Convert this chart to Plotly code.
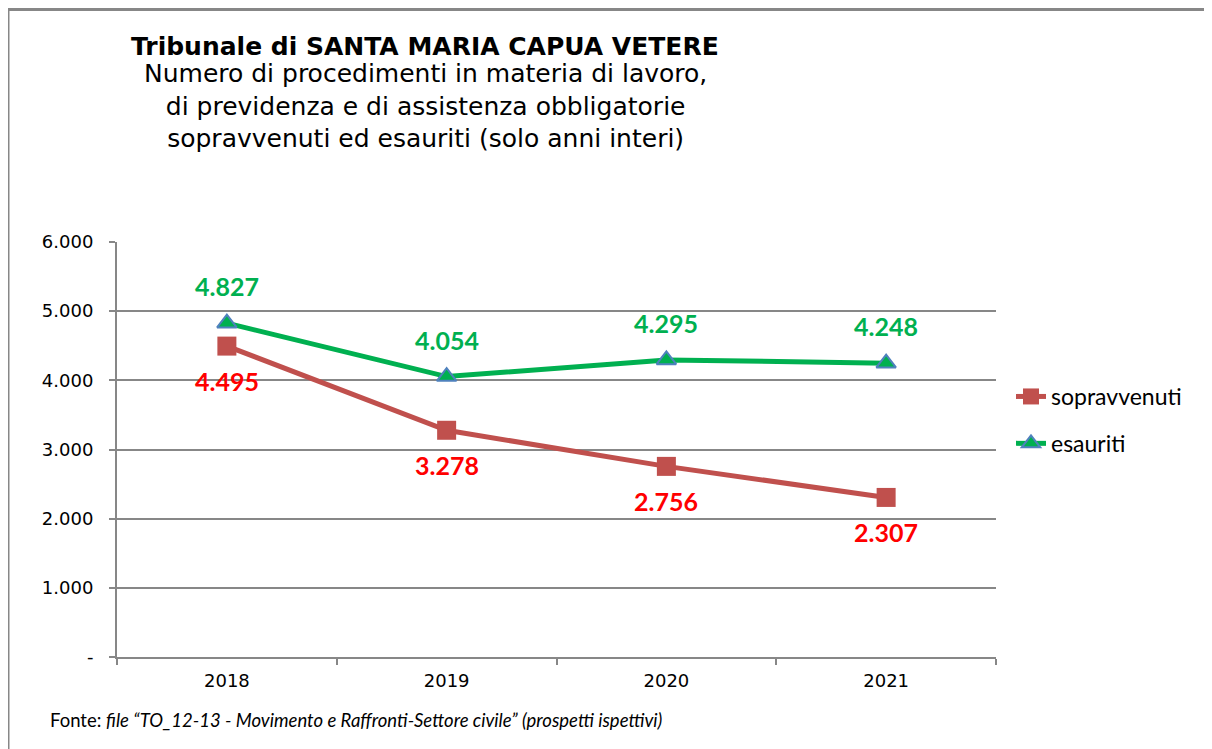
import plotly.graph_objects as go

years = ["2018", "2019", "2020", "2021"]
sopravvenuti = [4495, 3278, 2756, 2307]
esauriti = [4827, 4054, 4295, 4248]
ytick_vals = [0, 1000, 2000, 3000, 4000, 5000, 6000]
ytick_text = ["-", "1.000", "2.000", "3.000", "4.000", "5.000", "6.000"]


def fmt(v):
    return f"{v:,}".replace(",", ".")


OFF = 8  # page body margin
W, H = 1212 - OFF, 749 - OFF
L, T = 117 - OFF, 242 - OFF
PR, PB = 996 - OFF, 657 - OFF
R, B = W - PR, H - PB
PW, PH = PR - L, PB - T


def px(x):  # screen x -> paper
    return (x - OFF - L) / PW


def py(y):  # screen y -> paper
    return (PB - (y - OFF)) / PH


RED_COL, GREEN_COL = "#C0504D", "#00B050"

fig = go.Figure()
fig.add_trace(go.Scatter(
    x=years, y=sopravvenuti, name="sopravvenuti", mode="lines+markers",
    legendgroup="a",
    line=dict(color=RED_COL, width=5),
    marker=dict(symbol="square", size=19, color=RED_COL, line=dict(width=0)),
))
fig.add_trace(go.Scatter(
    x=years, y=esauriti, name="esauriti", mode="lines+markers",
    legendgroup="b",
    line=dict(color=GREEN_COL, width=5),
    marker=dict(symbol="triangle-up", size=17, color=GREEN_COL, line=dict(width=2, color="#4F81BD")),
))

label_font = "Lato, Noto Sans, sans-serif"
annotations = []
for i, v in enumerate(sopravvenuti):
    annotations.append(dict(x=i, y=v, xref="x", yref="y", text=f"<b>{fmt(v)}</b>",
                            showarrow=False, yshift=-35, xanchor="center", yanchor="middle",
                            font=dict(family=label_font, size=25, color="#FF0000")))
for i, v in enumerate(esauriti):
    annotations.append(dict(x=i, y=v, xref="x", yref="y", text=f"<b>{fmt(v)}</b>",
                            showarrow=False, yshift=37, xanchor="center", yanchor="middle",
                            font=dict(family=label_font, size=25, color=GREEN_COL)))

annotations += [
    dict(text="<b>Tribunale di SANTA MARIA CAPUA VETERE</b>", xref="paper", yref="paper",
         x=px(425), y=py(46), xanchor="center", yanchor="middle",
         showarrow=False, font=dict(family="DejaVu Sans, sans-serif", size=25, color="#000000")),
    dict(text="Numero di procedimenti in materia di lavoro,<br>di previdenza e di assistenza obbligatorie<br>sopravvenuti ed esauriti (solo anni interi)",
         xref="paper", yref="paper",
         x=px(425), y=py(106), xanchor="center", yanchor="middle",
         showarrow=False, align="center",
         font=dict(family="DejaVu Sans, sans-serif", size=25, color="#000000")),
    dict(text="Fonte: <i>file “TO_12-13 - Movimento e Raffronti-Settore civile” (prospetti ispettivi)</i>",
         xref="paper", yref="paper",
         x=px(48), y=py(720), xanchor="left", yanchor="middle",
         showarrow=False, font=dict(family=label_font, size=18.5, color="#000000")),
]

tick_font = dict(family="DejaVu Sans, sans-serif", size=18, color="#000000")

fig.update_layout(
    width=W, height=H,
    margin=dict(l=L, r=R, t=T, b=B),
    paper_bgcolor="white", plot_bgcolor="white",
    showlegend=True,
    legend=dict(x=px(1011), y=py(420), xanchor="left", yanchor="middle",
                font=dict(family=label_font, size=23, color="#000000"),
                traceorder="grouped", tracegroupgap=14, itemwidth=30,
                bgcolor="rgba(0,0,0,0)"),
    xaxis=dict(type="category", range=[-0.5, 3.5], showgrid=False,
               showline=True, linecolor="#878787", linewidth=2,
               ticks="outside", ticklen=6, tickcolor="#878787", tickwidth=2,
               tickson="boundaries", ticklabelstandoff=6,
               tickfont=tick_font, fixedrange=True),
    yaxis=dict(range=[0, 6000], tickvals=ytick_vals, ticktext=ytick_text,
               showgrid=True, gridcolor="#878787", gridwidth=2,
               showline=True, linecolor="#878787", linewidth=2,
               ticks="outside", ticklen=6, tickcolor="#878787", tickwidth=2,
               zeroline=False, ticklabelstandoff=12,
               tickfont=tick_font, fixedrange=True),
    annotations=annotations,
    shapes=[
        dict(type="line", xref="paper", yref="paper",
             x0=px(8), x1=px(1215), y0=py(9.5), y1=py(9.5),
             line=dict(color="#878787", width=3)),
        dict(type="line", xref="paper", yref="paper",
             x0=px(8.5), x1=px(8.5), y0=py(8), y1=py(760),
             line=dict(color="#878787", width=2)),
    ],
)

fig.write_html("out.html")
